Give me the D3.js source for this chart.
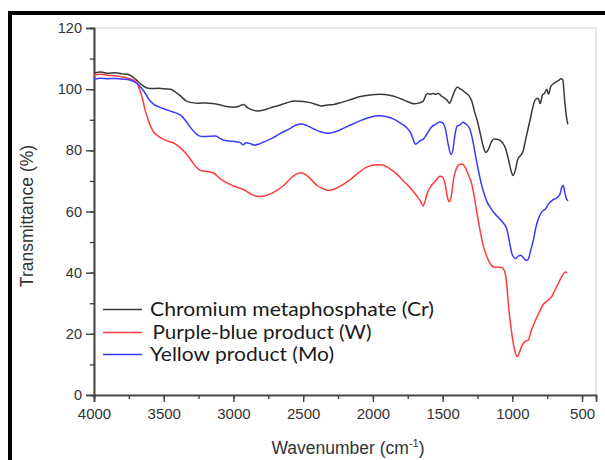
<!DOCTYPE html>
<html><head><meta charset="utf-8">
<script src="https://cdn.jsdelivr.net/npm/d3@7"></script>
<style>html,body{margin:0;padding:0;background:#fff;overflow:hidden}</style>
</head><body><svg id="c" width="605" height="460"></svg>
<script>
const seriesNames = ["Chromium metaphosphate (Cr)", "Purple-blue product (W)", "Yellow product (Mo)"];
const seriesColors = ["#3a3a3a", "#ff3b3b", "#3a3aff"];
const xTicks = [4000, 3500, 3000, 2500, 2000, 1500, 1000, 500];
const yTicks = [0, 20, 40, 60, 80, 100, 120];

const crData = [[4000,105.3],[3950,105.6],[3900,105.2],[3850,105.4],[3800,105.0],[3760,104.9],[3730,104.3],[3700,103.2],[3660,101.5],[3620,100.4],[3580,100.2],[3540,100.3],[3500,100.1],[3450,100.0],[3420,99.2],[3380,97.8],[3340,96.2],[3300,95.6],[3250,95.4],[3200,95.5],[3150,95.3],[3100,94.9],[3050,94.3],[3000,94.1],[2960,94.4],[2930,95.0],[2900,94.0],[2870,93.3],[2830,92.9],[2790,93.1],[2740,93.8],[2680,94.6],[2620,95.5],[2560,96.1],[2500,96.0],[2450,95.6],[2400,94.9],[2370,94.5],[2330,94.8],[2280,95.0],[2230,95.6],[2160,96.6],[2090,97.6],[2020,98.1],[1950,98.3],[1880,98.0],[1830,97.4],[1780,96.5],[1740,95.7],[1700,95.2],[1670,95.5],[1640,96.0],[1625,97.5],[1610,98.6],[1590,98.3],[1570,98.6],[1550,98.3],[1530,98.6],[1510,97.8],[1490,97.2],[1470,96.5],[1450,95.4],[1430,97.5],[1410,99.8],[1395,100.6],[1370,100.0],[1340,99.0],[1310,97.8],[1290,96.0],[1270,92.5],[1250,89.5],[1230,85.5],[1210,81.5],[1190,79.3],[1170,80.5],[1150,82.8],[1130,83.7],[1110,83.6],[1090,83.3],[1070,82.4],[1050,80.8],[1030,77.5],[1010,73.5],[995,71.8],[980,73.2],[960,77.2],[940,78.4],[925,79.5],[900,84.5],[870,90.5],[845,95.5],[830,96.8],[815,97.0],[800,95.3],[785,98.0],[770,98.6],[753,100.0],[741,98.3],[725,100.8],[710,101.6],[693,102.2],[670,102.8],[650,103.4],[638,103.0],[625,96.5],[612,91.0],[602,88.5]];

const wData = [[4000,104.6],[3950,104.9],[3900,104.5],[3850,104.4],[3800,104.0],[3760,103.6],[3720,103.0],[3690,101.8],[3670,99.5],[3650,96.5],[3635,93.4],[3615,90.5],[3600,88.5],[3580,86.5],[3550,85.0],[3510,83.8],[3470,83.0],[3420,82.2],[3380,80.8],[3340,79.0],[3300,76.5],[3260,74.2],[3230,73.3],[3180,73.0],[3140,72.5],[3100,70.9],[3060,69.7],[3020,68.8],[2980,68.0],[2930,67.2],[2880,65.9],[2840,65.1],[2800,64.9],[2760,65.3],[2700,66.6],[2640,68.5],[2590,70.8],[2550,72.2],[2520,72.7],[2480,72.0],[2440,70.3],[2400,68.5],[2360,67.5],[2320,66.9],[2280,67.3],[2230,68.4],[2160,70.5],[2100,72.8],[2040,74.6],[1980,75.3],[1930,75.2],[1880,74.0],[1830,72.3],[1780,70.0],[1730,67.6],[1690,65.4],[1660,63.5],[1640,61.8],[1625,63.5],[1610,66.0],[1580,68.5],[1550,70.0],[1520,71.5],[1500,71.2],[1480,68.5],[1462,64.0],[1450,63.2],[1438,65.0],[1420,71.0],[1400,74.2],[1380,75.4],[1360,75.5],[1340,74.6],[1315,72.0],[1290,68.8],[1270,64.0],[1250,58.5],[1230,53.5],[1210,49.0],[1185,45.5],[1160,43.0],[1130,41.8],[1100,41.8],[1075,41.7],[1055,40.5],[1040,36.0],[1025,28.0],[1005,20.5],[985,15.0],[965,12.5],[950,13.8],[930,16.2],[905,17.6],[885,18.0],[865,21.0],[840,23.8],[810,26.8],[780,29.5],[750,30.8],[720,32.0],[700,33.8],[670,36.5],[640,39.2],[620,40.2],[605,40.0]];

const moData = [[4000,103.3],[3950,103.6],[3900,103.4],[3850,103.5],[3800,103.3],[3760,103.2],[3720,102.6],[3690,101.8],[3660,100.3],[3630,98.5],[3600,96.3],[3570,95.0],[3540,94.3],[3500,93.6],[3450,92.8],[3400,92.0],[3370,91.2],[3340,89.5],[3310,87.6],[3280,86.0],[3250,84.8],[3220,84.5],[3180,84.6],[3130,84.7],[3100,84.0],[3060,83.2],[3020,83.0],[2980,82.8],[2950,82.5],[2930,81.8],[2910,82.5],[2880,82.2],[2850,81.7],[2820,82.0],[2780,82.8],[2720,84.0],[2660,85.6],[2600,87.0],[2550,88.3],[2510,88.6],[2470,88.0],[2420,86.9],[2370,86.0],[2320,85.6],[2280,85.9],[2230,86.8],[2160,88.3],[2090,89.7],[2020,90.8],[1960,91.3],[1900,91.0],[1850,90.2],[1800,88.8],[1760,87.5],[1730,85.8],[1710,83.5],[1695,82.0],[1680,82.4],[1660,83.2],[1640,83.6],[1610,85.5],[1580,87.6],[1550,88.5],[1520,89.3],[1500,89.0],[1480,87.0],[1460,82.0],[1440,78.6],[1425,80.5],[1410,85.5],[1395,88.0],[1375,88.3],[1355,89.2],[1330,88.5],[1305,87.0],[1285,83.5],[1265,78.5],[1245,73.8],[1225,69.5],[1200,65.5],[1180,63.0],[1160,61.5],[1130,59.5],[1100,58.0],[1070,56.5],[1040,54.3],[1020,50.0],[1005,46.5],[990,45.0],[975,44.6],[955,45.5],[940,45.7],[920,44.8],[900,44.0],[885,44.5],[870,47.0],[850,50.5],[830,55.0],[810,58.0],[790,59.8],[760,61.0],[740,62.5],[710,63.8],[680,64.5],[660,65.5],[645,68.0],[635,68.5],[625,66.5],[610,64.0],[600,63.5]];

const allSeries = [crData, wData, moData];

const svg = d3.select("#c");
const L = 94, R = 596, T = 28, B = 395;
const x = d3.scaleLinear().domain([4000, 400]).range([L, R]);
const y = d3.scaleLinear().domain([0, 120]).range([B, T]);

// outer black frame
svg.append("rect").attr("x", 10).attr("y", 13).attr("width", 800).attr("height", 800)
  .attr("fill", "none").attr("stroke", "#000").attr("stroke-width", 4);

// plot box
svg.append("rect").attr("x", L).attr("y", T).attr("width", R - L).attr("height", B - T)
  .attr("fill", "none").attr("stroke", "#cfcfcf").attr("stroke-width", 1);

const axisColor = "#444";
const gx = svg.append("g").attr("transform", `translate(0,${B})`);
gx.call(d3.axisBottom(x).tickValues(d3.range(4000, 399, -250)).tickSize(4).tickFormat(""));
const gx2 = svg.append("g").attr("transform", `translate(0,${B})`);
gx2.call(d3.axisBottom(x).tickValues(xTicks).tickSize(7).tickPadding(6).tickFormat(d => d));
const gy = svg.append("g").attr("transform", `translate(${L},0)`);
gy.call(d3.axisLeft(y).tickValues(d3.range(0, 121, 10)).tickSize(4).tickFormat(""));
const gy2 = svg.append("g").attr("transform", `translate(${L},0)`);
gy2.call(d3.axisLeft(y).tickValues(yTicks).tickSize(8).tickPadding(4).tickFormat(d => d));
[gx, gx2, gy, gy2].forEach(g => {
  g.selectAll("path.domain").attr("stroke", axisColor).attr("stroke-width", 1.6);
  g.selectAll(".tick line").attr("stroke", axisColor).attr("stroke-width", 1.4);
  g.selectAll("text").attr("fill", "#333").style("font-family", "Liberation Sans, Arial, sans-serif");
});
gx2.selectAll("text").style("font-size", "15px");
gy2.selectAll("text").style("font-size", "14.5px");

// lines
const line = d3.line().x(d => x(d[0])).y(d => y(d[1])).curve(d3.curveMonotoneX);
allSeries.forEach((s, i) => {
  svg.append("path").datum(s).attr("d", line).attr("fill", "none")
    .attr("stroke", seriesColors[i]).attr("stroke-width", 1.5).attr("stroke-linejoin", "round");
});

// legend
const legY = [309.5, 332.5, 354.5];
const legX = [150, 152.5, 150];
const legW = [284, 219, 184];
seriesNames.forEach((n, i) => {
  svg.append("line").attr("x1", 103).attr("x2", 142).attr("y1", legY[i]).attr("y2", legY[i])
    .attr("stroke", seriesColors[i]).attr("stroke-width", 1.5);
  svg.append("text").attr("x", legX[i]).attr("y", legY[i] + 6.5).text(n)
    .attr("textLength", legW[i]).attr("lengthAdjust", "spacingAndGlyphs")
    .attr("fill", "#1a1a1a").style("font-family", "Lato, sans-serif").style("font-size", "19px");
});

// axis titles
svg.append("text").attr("x", 348).attr("y", 454).attr("text-anchor", "middle")
  .attr("fill", "#333").style("font-family", "Liberation Sans, Arial, sans-serif").style("font-size", "17.5px")
  .call(t => {
    t.append("tspan").text("Wavenumber (cm");
    t.append("tspan").text("-1").attr("dy", -7).style("font-size", "11px");
    t.append("tspan").text(")").attr("dy", 7);
  });
svg.append("text").attr("transform", "translate(33,216) rotate(-90)").attr("text-anchor", "middle")
  .attr("fill", "#333").style("font-family", "Liberation Sans, Arial, sans-serif").style("font-size", "17.5px")
  .text("Transmittance (%)");
</script></body></html>
